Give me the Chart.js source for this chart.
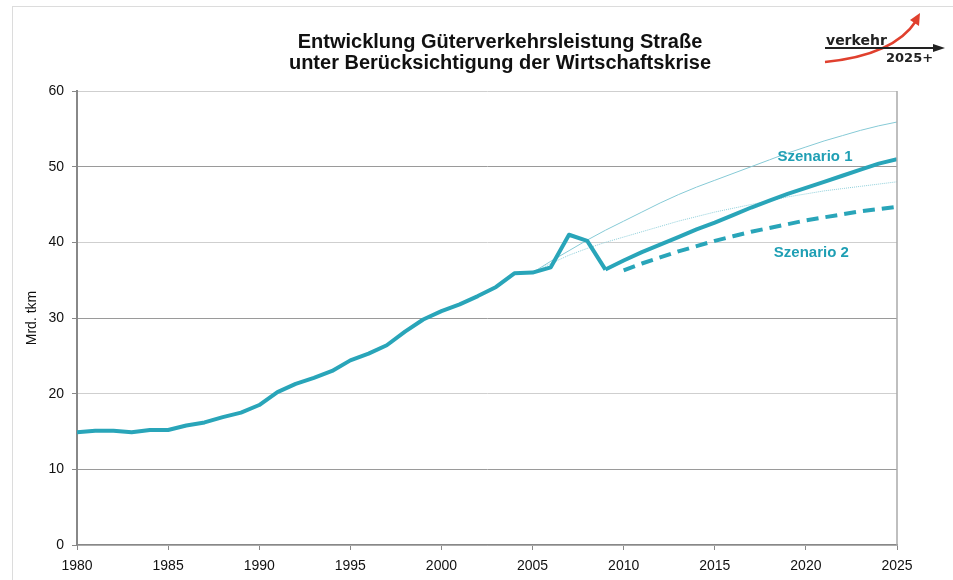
<!DOCTYPE html>
<html>
<head>
<meta charset="utf-8">
<script src="https://cdn.jsdelivr.net/npm/chart.js@4.4.1/dist/chart.umd.min.js"></script>
<style>
  html, body { margin: 0; padding: 0; background: #fff; }
  #wrap { position: relative; width: 953px; height: 580px; overflow: hidden; }
  #frame { position: absolute; left: 12px; top: 6px; right: -2px; bottom: -2px;
           border-left: 1px solid #dcdcdc; border-top: 1px solid #dcdcdc; }
  #title { position: absolute; left: 0; width: 1000px; top: 31px; text-align: center;
           font: bold 20px "Liberation Sans", Arial, sans-serif; line-height: 21px; color: #111; }
  #logo { position: absolute; left: 820px; top: 8px; }
  canvas { position: absolute; left: 0; top: 0; }
</style>
</head>
<body>
<div id="wrap">
  <div id="frame"></div>
  <canvas id="chart" width="953" height="580"></canvas>
  <div id="title">Entwicklung Güterverkehrsleistung Straße<br>unter Berücksichtigung der Wirtschaftskrise</div>
  <svg id="logo" width="133" height="62" viewBox="0 0 133 62">
    <path d="M5 54 C 45 50, 80 38, 96 13" stroke="#e0402e" stroke-width="2.5" fill="none"/>
    <polygon points="100,5 99,18 90,12" fill="#e0402e"/>
    <line x1="5" y1="40" x2="116" y2="40" stroke="#222" stroke-width="2"/>
    <polygon points="125,40 113,36 113,44" fill="#222"/>
    <text x="6" y="37" font-family="DejaVu Sans" font-weight="bold" font-size="14" fill="#222">verkehr</text>
    <text x="66" y="54" font-family="DejaVu Sans" font-weight="bold" font-size="13" fill="#222">2025+</text>
  </svg>
</div>
<script>
// Güterverkehrsleistung Straße, Mrd. tkm

const histYears = [1980, 1981, 1982, 1983, 1984, 1985, 1986, 1987, 1988, 1989,
  1990, 1991, 1992, 1993, 1994, 1995, 1996, 1997, 1998, 1999,
  2000, 2001, 2002, 2003, 2004, 2005, 2006, 2007, 2008, 2009];
const histValues = [14.9, 15.1, 15.1, 14.9, 15.2, 15.2, 15.8, 16.2, 16.9, 17.5,
  18.5, 20.2, 21.3, 22.1, 23.0, 24.4, 25.3, 26.4, 28.2, 29.8,
  30.9, 31.8, 32.9, 34.1, 35.9, 36.0, 36.7, 41.0, 40.2, 36.4];

const sz1Years = [2009, 2010, 2011, 2012, 2013, 2014, 2015, 2016, 2017,
  2018, 2019, 2020, 2021, 2022, 2023, 2024, 2025];
const sz1Values = [36.4, 37.6, 38.7, 39.7, 40.7, 41.7, 42.6, 43.6, 44.6,
  45.5, 46.4, 47.2, 48.0, 48.8, 49.6, 50.4, 51.0];

const sz2Years = [2010, 2011, 2012, 2013, 2014, 2015, 2016, 2017,
  2018, 2019, 2020, 2021, 2022, 2023, 2024, 2025];
const sz2Values = [36.3, 37.2, 38.0, 38.8, 39.5, 40.2, 40.8, 41.4,
  41.9, 42.4, 42.9, 43.3, 43.7, 44.1, 44.4, 44.7];

// alte Prognosen (ohne Krise), dünn
const trendYears = [2005, 2006, 2007, 2008, 2009, 2010, 2011, 2012, 2013, 2014,
  2015, 2016, 2017, 2018, 2019, 2020, 2021, 2022, 2023, 2024, 2025];
const trendHigh = [36.0, 37.5, 38.9, 40.3, 41.6, 42.8, 44.0, 45.2, 46.3, 47.3,
  48.2, 49.1, 50.0, 50.9, 51.8, 52.6, 53.4, 54.1, 54.8, 55.4, 55.9];
const trendLow = [36.0, 37.2, 38.3, 39.2, 40.0, 40.7, 41.4, 42.1, 42.8, 43.4,
  44.0, 44.5, 45.0, 45.5, 46.0, 46.4, 46.8, 47.1, 47.4, 47.7, 48.0];

const yTicks = [0, 10, 20, 30, 40, 50, 60];

const labels = [
  { text: "Szenario 1", x: 2020.5, y: 51.3 },
  { text: "Szenario 2", x: 2020.3, y: 38.6 }
];

const teal = "#29a5b9";
const font = "'Liberation Sans', Arial, sans-serif";

const pts = (xs, ys) => xs.map((x, i) => ({ x: x, y: ys[i] }));

const extras = {
  id: "extras",
  afterDatasetsDraw(chart) {
    const { ctx, chartArea, scales } = chart;
    ctx.save();
    ctx.strokeStyle = "#aaa";
    ctx.lineWidth = 1.5;
    ctx.beginPath();
    ctx.moveTo(chartArea.right, chartArea.top);
    ctx.lineTo(chartArea.right, chartArea.bottom);
    ctx.stroke();
    ctx.fillStyle = "#1f9fb4";
    ctx.font = "bold 15px " + font;
    ctx.textAlign = "center";
    ctx.textBaseline = "middle";
    labels.forEach(l => {
      ctx.fillText(l.text, scales.x.getPixelForValue(l.x), scales.y.getPixelForValue(l.y));
    });
    ctx.restore();
  }
};

new Chart(document.getElementById("chart"), {
  type: "line",
  data: {
    datasets: [
      { data: pts(histYears, histValues), borderColor: teal, borderWidth: 4, order: 1 },
      { data: pts(sz1Years, sz1Values), borderColor: teal, borderWidth: 4, order: 1 },
      { data: pts(sz2Years, sz2Values), borderColor: teal, borderWidth: 4, borderDash: [12, 7], order: 1 },
      { data: pts(trendYears, trendHigh), borderColor: "#86cad6", borderWidth: 1, order: 2 },
      { data: pts(trendYears, trendLow), borderColor: "#8fcfda", borderWidth: 1, borderDash: [1, 1], order: 2 }
    ]
  },
  options: {
    responsive: false,
    animation: false,
    events: [],
    layout: { padding: { top: 91, right: 56, left: 0, bottom: 0 } },
    elements: {
      point: { radius: 0 },
      line: { tension: 0, borderJoinStyle: "round", borderCapStyle: "butt" }
    },
    plugins: { legend: { display: false }, tooltip: { enabled: false } },
    scales: {
      x: {
        type: "linear",
        min: 1980,
        max: 2025,
        afterFit: s => { s.height = 35; },
        ticks: { stepSize: 5, color: "#111", padding: 8, font: { family: font, size: 14 },
                 callback: v => String(v) },
        grid: { drawOnChartArea: false, drawTicks: true, tickLength: 5, tickColor: "#888" },
        border: { color: "#888", width: 1.5 }
      },
      y: {
        min: 0,
        max: 60,
        afterFit: s => { s.width = 77; },
        afterBuildTicks: s => { s.ticks = yTicks.map(v => ({ value: v })); },
        ticks: { color: "#111", padding: 8, font: { family: font, size: 14 } },
        title: { display: true, text: "Mrd. tkm", color: "#111", padding: { top: 24, bottom: 0 },
                 font: { family: font, size: 14 } },
        grid: {
          color: c => (c.tick.value % 20 === 10 ? "#9a9a9a" : "#cfcfcf"),
          lineWidth: 1,
          tickLength: 5,
          tickColor: "#888"
        },
        border: { color: "#888", width: 2 }
      }
    }
  },
  plugins: [extras]
});
</script>
</body>
</html>
